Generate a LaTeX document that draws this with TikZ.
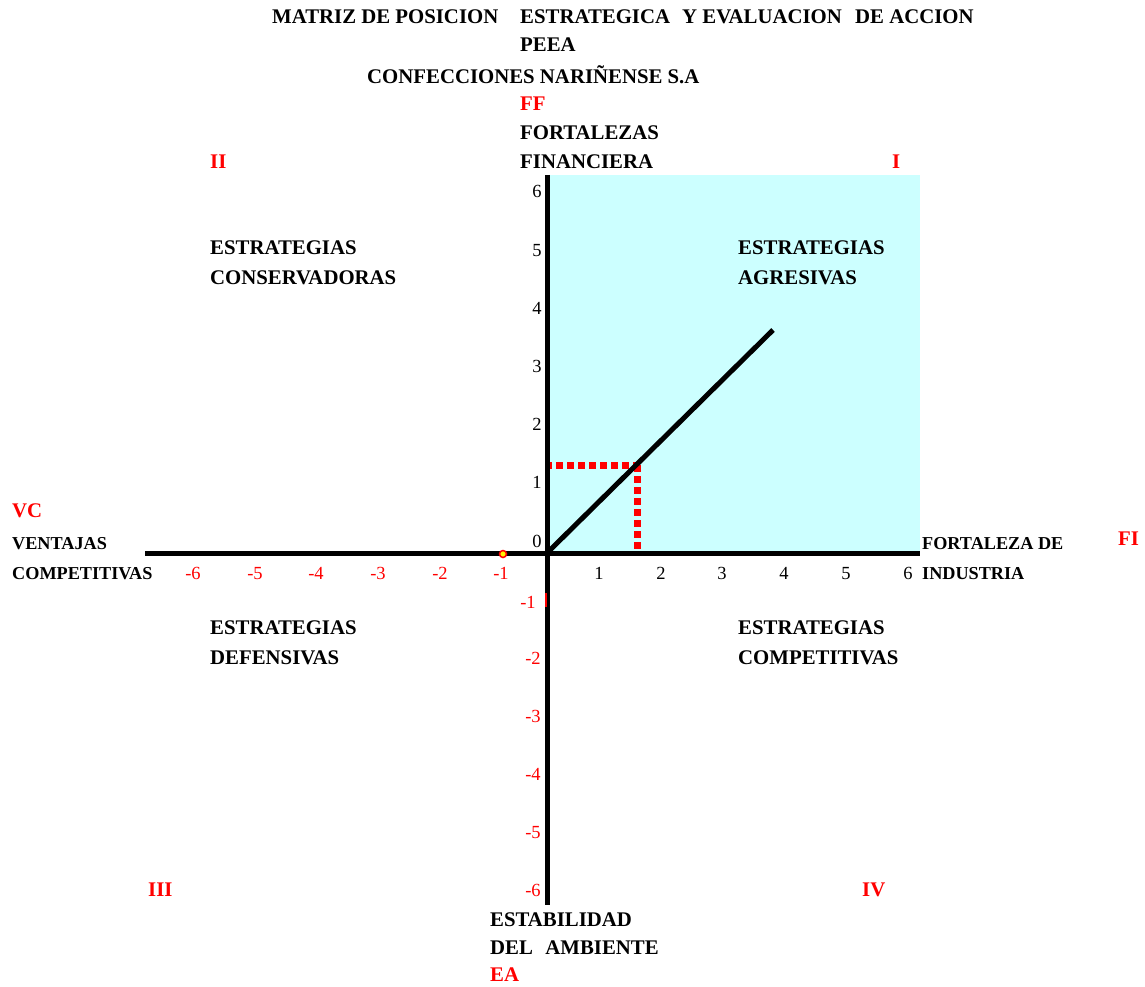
\documentclass[tikz,border=0pt]{standalone}
\usepackage{fontspec}
\setmainfont{Liberation Serif}
\definecolor{qcyan}{HTML}{CCFFFF}
\definecolor{qred}{HTML}{FF0000}
\begin{document}
\begin{tikzpicture}[x=1pt,y=-1pt,
  lbl/.style={anchor=west,inner sep=0pt,font=\fontsize{20.8}{24}\selectfont\bfseries},
  slbl/.style={anchor=west,inner sep=0pt,font=\fontsize{18.2}{22}\selectfont\bfseries},
  rlbl/.style={lbl,text=qred},
  num/.style={inner sep=0pt,text height=12.6pt,text depth=0pt,font=\fontsize{18.5}{22}\selectfont},
  rnum/.style={num,text=qred},
  axis/.style={line width=5pt},
  dotline/.style={qred,line width=7pt,dash pattern=on 7pt off 4pt}]
\useasboundingbox (0,0) rectangle (1145,987);
% quadrant fill
\fill[qcyan] (549,175) rectangle (920,553);
% coordinates
\coordinate (O) at (547,553);
\coordinate (xl) at (145,553);
\coordinate (xr) at (920,553);
\coordinate (yt) at (547,175);
\coordinate (yb) at (547,905);
\coordinate (pe) at (773,330);
\coordinate (ha) at (545,465);
\coordinate (hb) at (640,465);
\coordinate (va) at (637,465);
\coordinate (vb) at (637,550);
% dotted projection
\draw[dotline] (ha) -- (hb);
\draw[dotline] (va) -- (vb);
% axes
\draw[axis] (xl) -- (xr);
\draw[axis] (yt) -- (yb);
\draw[axis] (O) -- (pe);
% small marks
\node[circle,fill=yellow,draw=qred,line width=1.5pt,inner sep=0pt,minimum size=7pt] (m1) at (503,554) {};
\coordinate (ra) at (546,593);
\coordinate (rb) at (546,607);
\draw[qred,line width=1.5pt] (ra) -- (rb);
% title
\node[lbl] (t1) at (272,17) {MATRIZ DE POSICION};
\node[lbl] (t2) at (520,17) {ESTRATEGICA};
\node[lbl] (t3) at (682,17) {Y EVALUACION};
\node[lbl] (t4) at (855,17) {DE ACCION};
\node[lbl] (t5) at (520,45) {PEEA};
\node[lbl] (t6) at (367,75) {CONFECCIONES NARIÑENSE S.A};
\node[rlbl] (ff) at (520,104) {FF};
\node[lbl] (ff1) at (520,133) {FORTALEZAS};
\node[lbl] (ff2) at (520,162) {FINANCIERA};
\node[rlbl] (q2) at (210,162) {II};
\node[rlbl] (q1) at (892,162) {I};
\node[rlbl] (q3) at (148,890) {III};
\node[rlbl] (q4) at (862,890) {IV};
% quadrant labels
\node[lbl] (c1) at (210,248) {ESTRATEGIAS};
\node[lbl] (c2) at (210,278) {CONSERVADORAS};
\node[lbl] (a1) at (738,248) {ESTRATEGIAS};
\node[lbl] (a2) at (738,278) {AGRESIVAS};
\node[lbl] (d1) at (210,628) {ESTRATEGIAS};
\node[lbl] (d2) at (210,658) {DEFENSIVAS};
\node[lbl] (k1) at (738,628) {ESTRATEGIAS};
\node[lbl] (k2) at (738,658) {COMPETITIVAS};
% axis names
\node[rlbl] (vc) at (12,511) {VC};
\node[slbl] (vc1) at (12,544) {VENTAJAS};
\node[slbl] (vc2) at (12,574) {COMPETITIVAS};
\node[slbl] (fi1) at (922,544) {FORTALEZA DE};
\node[slbl] (fi2) at (922,574) {INDUSTRIA};
\node[rlbl] (fi) at (1118,539) {FI};
\node[lbl] (ea1) at (490,920) {ESTABILIDAD};
\node[lbl] (ea2) at (490,948) {DEL\hspace{0.6em}AMBIENTE};
\node[rlbl] (ea) at (490,975) {EA};
% x tick labels
\node[rnum] (xm6) at (193,573) {-6};
\node[rnum] (xm5) at (255,573) {-5};
\node[rnum] (xm4) at (316,573) {-4};
\node[rnum] (xm3) at (378,573) {-3};
\node[rnum] (xm2) at (440,573) {-2};
\node[rnum] (xm1) at (501,573) {-1};
\node[num] (x1) at (599,573) {1};
\node[num] (x2) at (661,573) {2};
\node[num] (x3) at (722,573) {3};
\node[num] (x4) at (784,573) {4};
\node[num] (x5) at (846,573) {5};
\node[num] (x6) at (908,573) {6};
% y tick labels
\node[num] (y6) at (537,191) {6};
\node[num] (y5) at (537,250) {5};
\node[num] (y4) at (537,308) {4};
\node[num] (y3) at (537,366) {3};
\node[num] (y2) at (537,424) {2};
\node[num] (y1) at (537,482) {1};
\node[num] (y0) at (537,541) {0};
\node[rnum] (ym1) at (528,602) {-1};
\node[rnum] (ym2) at (533,658) {-2};
\node[rnum] (ym3) at (533,716) {-3};
\node[rnum] (ym4) at (533,774) {-4};
\node[rnum] (ym5) at (533,832) {-5};
\node[rnum] (ym6) at (533,890) {-6};
\end{tikzpicture}
\end{document}
